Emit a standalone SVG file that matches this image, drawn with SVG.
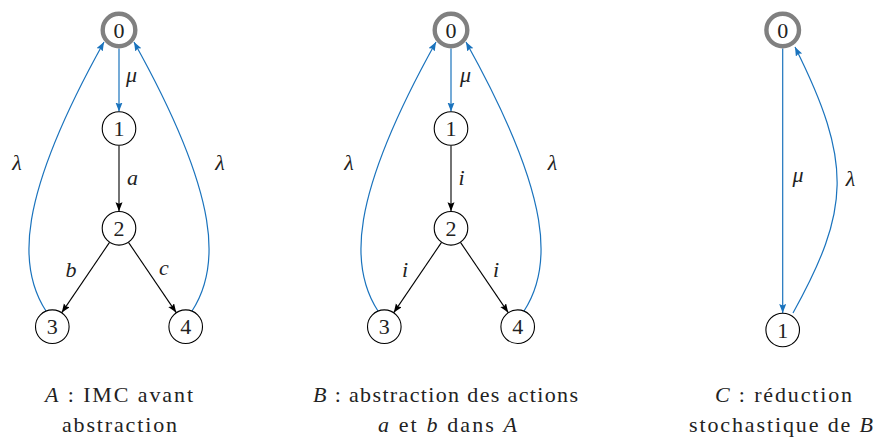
<svg xmlns="http://www.w3.org/2000/svg" width="877" height="439" viewBox="0 0 877 439">
<style>
  .n { fill: #fff; stroke: #000; stroke-width: 1.1; }
  .n0 { fill: #fff; stroke: #808080; stroke-width: 4.4; }
  .t { text-anchor: middle; }
  .l { font-style: italic; text-anchor: middle; }
  .it { font-style: italic; }
  .b { fill: none; stroke: #1a73bd; stroke-width: 1.2; }
  .k { fill: none; stroke: #000; stroke-width: 1.1; }
</style>
<defs>
  <marker id="ab" markerUnits="userSpaceOnUse" markerWidth="10" markerHeight="8" refX="9" refY="3.5" orient="auto">
    <path d="M0,0 L9,3.5 L0,7 L1.5,3.5 z" fill="#1a73bd"/>
  </marker>
  <marker id="ak" markerUnits="userSpaceOnUse" markerWidth="10" markerHeight="8" refX="9" refY="3.5" orient="auto">
    <path d="M0,0 L9,3.5 L0,7 L1.5,3.5 z" fill="#000"/>
  </marker>
</defs>
<g font-family="Liberation Serif, Times New Roman, Times, serif" font-size="22" fill="#222">
<g id="connectors">
  <!-- A -->
  <line class="b" x1="119" y1="48.5" x2="119" y2="111.5" marker-end="url(#ab)"/>
  <line class="k" x1="119" y1="145.5" x2="119" y2="211.3" marker-end="url(#ak)"/>
  <line class="k" x1="109.5" y1="242.4" x2="61.8" y2="312.6" marker-end="url(#ak)"/>
  <line class="k" x1="128.5" y1="242.4" x2="176.2" y2="312.6" marker-end="url(#ak)"/>
  <path class="b" d="M46,311 C18,268 16,200 104,42" marker-end="url(#ab)"/>
  <path class="b" d="M192,311 C220,268 222,200 134,42" marker-end="url(#ab)"/>
  <!-- B -->
  <line class="b" x1="451" y1="48.5" x2="451" y2="111.5" marker-end="url(#ab)"/>
  <line class="k" x1="451" y1="145.5" x2="451" y2="211.3" marker-end="url(#ak)"/>
  <line class="k" x1="441.5" y1="242.4" x2="393.8" y2="312.6" marker-end="url(#ak)"/>
  <line class="k" x1="460.5" y1="242.4" x2="508.2" y2="312.6" marker-end="url(#ak)"/>
  <path class="b" d="M378,311 C350,268 348,200 436,42" marker-end="url(#ab)"/>
  <path class="b" d="M524,311 C552,268 554,200 466,42" marker-end="url(#ab)"/>
  <!-- C -->
  <line class="b" x1="782.7" y1="48.5" x2="782.7" y2="313" marker-end="url(#ab)"/>
  <path class="b" d="M793,313 C850,210 853,163 795,47" marker-end="url(#ab)"/>

  <!-- labels -->
  <text class="l" x="131.5" y="82">μ</text>
  <text class="l" x="132.5" y="185">a</text>
  <text class="l" x="17" y="170">λ</text>
  <text class="l" x="220" y="170">λ</text>
  <text class="l" x="71" y="277">b</text>
  <text class="l" x="164" y="275">c</text>

  <text class="l" x="465.5" y="82">μ</text>
  <text class="l" x="461.5" y="185">i</text>
  <text class="l" x="349" y="170">λ</text>
  <text class="l" x="552.5" y="170">λ</text>
  <text class="l" x="405" y="277">i</text>
  <text class="l" x="496" y="277">i</text>

  <text class="l" x="798" y="182">μ</text>
  <text class="l" x="850.5" y="186">λ</text>
</g>

<g id="A0"><circle class="n0" cx="119" cy="30" r="16.3"/><text class="t" x="119" y="37.5">0</text></g>
<g id="A1"><circle class="n" cx="119" cy="128.5" r="16.8"/><text class="t" x="119" y="136">1</text></g>
<g id="A2"><circle class="n" cx="119" cy="228.3" r="16.8"/><text class="t" x="119" y="235.8">2</text></g>
<g id="A3"><circle class="n" cx="52.3" cy="326.7" r="16.8"/><text class="t" x="52.3" y="334.2">3</text></g>
<g id="A4"><circle class="n" cx="185.7" cy="326.7" r="16.8"/><text class="t" x="185.7" y="334.2">4</text></g>

<g id="B0"><circle class="n0" cx="451" cy="30" r="16.3"/><text class="t" x="451" y="37.5">0</text></g>
<g id="B1"><circle class="n" cx="451" cy="128.5" r="16.8"/><text class="t" x="451" y="136">1</text></g>
<g id="B2"><circle class="n" cx="451" cy="228.3" r="16.8"/><text class="t" x="451" y="235.8">2</text></g>
<g id="B3"><circle class="n" cx="384.3" cy="326.7" r="16.8"/><text class="t" x="384.3" y="334.2">3</text></g>
<g id="B4"><circle class="n" cx="517.7" cy="326.7" r="16.8"/><text class="t" x="517.7" y="334.2">4</text></g>

<g id="C0"><circle class="n0" cx="782.7" cy="30" r="16.3"/><text class="t" x="782.7" y="37.5">0</text></g>
<g id="C1"><circle class="n" cx="782.7" cy="330" r="16.8"/><text class="t" x="782.7" y="337.5">1</text></g>

<g id="captions">
  <text x="45" y="402" textLength="148" lengthAdjust="spacing"><tspan class="it">A</tspan> : IMC avant</text>
  <text x="62" y="432" textLength="115" lengthAdjust="spacing">abstraction</text>
  <text x="313" y="402" textLength="265" lengthAdjust="spacing"><tspan class="it">B</tspan> : abstraction des actions</text>
  <text x="378" y="432" textLength="139" lengthAdjust="spacing"><tspan class="it">a</tspan> et <tspan class="it">b</tspan> dans <tspan class="it">A</tspan></text>
  <text x="715" y="402" textLength="137" lengthAdjust="spacing"><tspan class="it">C</tspan> : réduction</text>
  <text x="689" y="432" textLength="184" lengthAdjust="spacing">stochastique de <tspan class="it">B</tspan></text>
</g>
</g>
</svg>
